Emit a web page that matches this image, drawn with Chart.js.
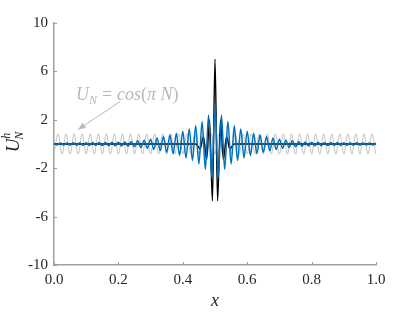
<!DOCTYPE html>
<html>
<head>
<meta charset="utf-8">
<script src="https://cdn.jsdelivr.net/npm/chart.js@4.4.1/dist/chart.umd.min.js"></script>
<style>
  html, body { margin: 0; padding: 0; background: #fff; }
  #wrap { width: 415px; height: 312px; }
</style>
</head>
<body>
<div id="wrap"><canvas id="c" width="415" height="312"></canvas></div>
<script>
// values
// gray: U_N = cos(pi N), extrema every 0.0125 in x
const grayStep = 0.0125;
const grayY = [
  -0.85, 0.85,-0.85, 0.85,-0.85, 0.85,-0.85, 0.85,-0.85, 0.85,
  -0.85, 0.85,-0.85, 0.85,-0.85, 0.85,-0.85, 0.85,-0.85, 0.85,
  -0.85, 0.85,-0.85, 0.85,-0.85, 0.85,-0.85, 0.85,-0.85, 0.85,
  -0.85, 0.85,-0.85, 0.85,-0.85, 0.85,-0.85, 0.85,-0.85, 0.85,
  -0.85, 0.85,-0.85, 0.85,-0.85, 0.85,-0.85, 0.85,-0.85, 0.85,
  -0.85, 0.85,-0.85, 0.85,-0.85, 0.85,-0.85, 0.85,-0.85, 0.85,
  -0.85, 0.85,-0.85, 0.85,-0.85, 0.85,-0.85, 0.85,-0.85, 0.85,
  -0.85, 0.85,-0.85, 0.85,-0.85, 0.85,-0.85, 0.85,-0.85, 0.85,
  -0.85
];

// blue: discrete solution, extrema every 0.01 in x
const blueStep = 0.01;
const blueY = [
   0.08,-0.08, 0.09,-0.09, 0.09,-0.10, 0.10,-0.10, 0.11,-0.11,
   0.11,-0.12, 0.12,-0.12, 0.13,-0.13, 0.13,-0.14, 0.14,-0.15,
   0.15,-0.16, 0.17,-0.19, 0.21,-0.23, 0.26,-0.29, 0.32,-0.36,
   0.40,-0.45, 0.50,-0.56, 0.62,-0.68, 0.74,-0.80, 0.88,-0.95,
   1.05,-1.15, 1.25,-1.35, 1.50,-1.65, 1.85,-2.10, 2.40,-2.80,
   3.20,
  -2.80, 2.40,-2.10, 1.85,-1.65, 1.50,-1.35, 1.25,-1.15, 1.05,
  -0.95, 0.88,-0.80, 0.74,-0.68, 0.62,-0.56, 0.50,-0.45, 0.40,
  -0.36, 0.32,-0.29, 0.26,-0.23, 0.21,-0.19, 0.17,-0.16, 0.15,
  -0.15, 0.14,-0.14, 0.13,-0.13, 0.13,-0.12, 0.12,-0.12, 0.11,
  -0.11, 0.11,-0.10, 0.10,-0.10, 0.09,-0.09, 0.09,-0.08, 0.08
];

// black: exact solution, flat except around x = 0.5
const blackX = [0, 0.44, 0.454, 0.464, 0.474, 0.483, 0.492, 0.5, 0.508, 0.517, 0.526, 0.536, 0.546, 0.56, 1];
const blackY = [0, 0,   -0.4,   0.6,  -1.3,   2.0,  -4.7,  7.0, -4.7,   2.0,  -1.3,   0.6,  -0.4,  0,   0];

const xTicks = [0, 0.2, 0.4, 0.6, 0.8, 1.0];
const yTicks = [-10, -6, -2, 2, 6, 10];

const SERIF = '"Liberation Serif", "DejaVu Serif", serif';
const AXIS = '#a0a0a0', TXT = '#262626';

const gray  = grayY.map((y, i) => ({ x: i * grayStep, y }));
const blue  = blueY.map((y, i) => ({ x: i * blueStep, y }));
const black = blackX.map((x, i) => ({ x, y: blackY[i] }));

/* inward ticks, annotation and axis titles ------------------------- */
const deco = {
  id: 'deco',
  afterDraw(chart) {
    const { ctx, chartArea: a, scales: { x, y } } = chart;
    ctx.save();
    ctx.strokeStyle = AXIS; ctx.lineWidth = 1;
    xTicks.forEach(v => {
      const px = Math.round(x.getPixelForValue(v)) + 0.5;
      ctx.beginPath(); ctx.moveTo(px, a.bottom); ctx.lineTo(px, a.bottom - 3); ctx.stroke();
    });
    yTicks.forEach(v => {
      const py = Math.round(y.getPixelForValue(v)) + 0.5;
      ctx.beginPath(); ctx.moveTo(a.left, py); ctx.lineTo(a.left + 3, py); ctx.stroke();
    });

    // annotation U_N = cos(pi N) with arrow
    ctx.fillStyle = '#b8b8b8'; ctx.strokeStyle = '#b8b8b8';
    ctx.textBaseline = 'alphabetic'; ctx.textAlign = 'left';
    let tx = x.getPixelForValue(0.068), ty = y.getPixelForValue(3.6);
    ctx.font = 'italic 18px ' + SERIF;
    ctx.fillText('U', tx, ty); tx += ctx.measureText('U').width;
    ctx.font = 'italic 12px ' + SERIF;
    ctx.fillText('N', tx, ty + 4); tx += ctx.measureText('N').width + 5;
    ctx.font = '18px ' + SERIF;
    ctx.fillText('=', tx, ty); tx += ctx.measureText('=').width + 5;
    ctx.font = 'italic 18px ' + SERIF;
    ctx.fillText('cos', tx, ty); tx += ctx.measureText('cos').width;
    ctx.font = '18px ' + SERIF;
    ctx.fillText('(', tx, ty); tx += ctx.measureText('(').width;
    ctx.font = 'italic 18px ' + SERIF;
    ctx.fillText('\u03c0 N', tx, ty); tx += ctx.measureText('\u03c0 N').width;
    ctx.font = '18px ' + SERIF;
    ctx.fillText(')', tx, ty);

    const x0 = x.getPixelForValue(0.205), y0 = y.getPixelForValue(3.5);
    const x1 = x.getPixelForValue(0.075), y1 = y.getPixelForValue(1.2);
    ctx.lineWidth = 1;
    ctx.beginPath(); ctx.moveTo(x0, y0); ctx.lineTo(x1, y1); ctx.stroke();
    const ang = Math.atan2(y1 - y0, x1 - x0);
    ctx.beginPath();
    ctx.moveTo(x1, y1);
    ctx.lineTo(x1 - 8 * Math.cos(ang - 0.4), y1 - 8 * Math.sin(ang - 0.4));
    ctx.lineTo(x1 - 8 * Math.cos(ang + 0.4), y1 - 8 * Math.sin(ang + 0.4));
    ctx.closePath(); ctx.fill();

    // x title
    ctx.fillStyle = TXT;
    ctx.font = 'italic 18px ' + SERIF; ctx.textAlign = 'center';
    ctx.fillText('x', (a.left + a.right) / 2, 306);

    // y title U_N^h
    ctx.translate(19, 141);
    ctx.rotate(-Math.PI / 2);
    ctx.textAlign = 'left';
    ctx.font = 'italic 19px ' + SERIF;
    const uw = ctx.measureText('U').width;
    const start = -(uw + 9) / 2;
    ctx.fillText('U', start, 0);
    ctx.font = 'italic 12px ' + SERIF;
    ctx.fillText('h', start + uw, -9);
    ctx.fillText('N', start + uw - 1, 4);
    ctx.restore();
  }
};

new Chart(document.getElementById('c'), {
  type: 'line',
  data: {
    datasets: [
      { data: blue,  borderColor: '#0072BD', borderWidth: 1.5, order: 1 },
      { data: black, borderColor: '#000000', borderWidth: 1.4, order: 2 },
      { data: gray,  borderColor: '#c4c4c4', borderWidth: 1.0, order: 3 }
    ]
  },
  options: {
    responsive: false,
    animation: false,
    events: [],
    layout: { padding: { left: 0, right: 39, top: 23, bottom: 0 } },
    elements: {
      point: { radius: 0 },
      line: { cubicInterpolationMode: 'monotone', fill: false }
    },
    plugins: { legend: { display: false }, tooltip: { enabled: false } },
    scales: {
      x: {
        type: 'linear', min: 0, max: 1,
        afterFit: s => { s.height = 47; },
        afterBuildTicks: s => { s.ticks = xTicks.map(v => ({ value: v })); },
        grid: { display: false, drawTicks: false },
        border: { display: true, color: AXIS, width: 1.5 },
        ticks: { color: TXT, font: { family: SERIF, size: 15 }, padding: 6,
                 maxRotation: 0, callback: v => Number(v).toFixed(1) }
      },
      y: {
        type: 'linear', min: -10, max: 10,
        afterFit: s => { s.width = 54; },
        afterBuildTicks: s => { s.ticks = yTicks.map(v => ({ value: v })); },
        grid: { display: false, drawTicks: false },
        border: { display: true, color: AXIS, width: 1.5 },
        ticks: { color: TXT, font: { family: SERIF, size: 15 }, padding: 6,
                 callback: v => String(v) }
      }
    }
  },
  plugins: [deco]
});
</script>
</body>
</html>
